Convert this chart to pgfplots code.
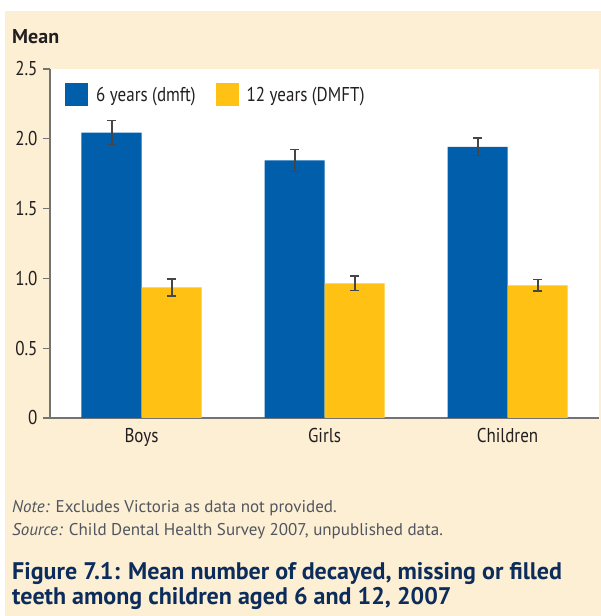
\documentclass[border=0pt]{standalone}
\usepackage{pgfplots}
\pgfplotsset{compat=1.18}
\usepackage{pgfplotstable}
\usepackage{fontspec}
\setmainfont{PT Sans}
\newfontfamily\condfont[FakeStretch=0.85]{PT Sans}
\definecolor{peach}{RGB}{253,239,212}
\definecolor{barblue}{RGB}{0,94,171}
\definecolor{baryellow}{RGB}{255,194,20}
\definecolor{capblue}{RGB}{12,45,92}
\definecolor{notegray}{RGB}{80,85,95}
\definecolor{axgray}{RGB}{115,115,115}
\definecolor{txt}{RGB}{35,31,32}
\definecolor{errgray}{RGB}{70,70,70}

\pgfplotstableread{
x six sixerr twelve twelveerr
0 2.045 0.087 0.936 0.060
1 1.845 0.078 0.965 0.051
2 1.943 0.062 0.950 0.042
}\datatable

\begin{document}
\begin{tikzpicture}
\fill[white] (0bp,0bp) rectangle (601bp,616bp);
\fill[peach] (5bp,0bp) rectangle (601bp,605bp);
\begin{axis}[
  at={(50bp,198bp)}, anchor=south west,
  scale only axis, width=549bp, height=349bp,
  axis background/.style={fill=white},
  ybar=0pt, bar width=60bp,
  xmin=-0.5, xmax=2.5, ymin=0, ymax=2.5,
  xtick={0,1,2}, xticklabels={Boys,Girls,Children},
  ytick={0,0.5,1,1.5,2,2.5}, yticklabels={0,0.5,1.0,1.5,2.0,2.5},
  axis x line*=bottom, axis y line*=left,
  axis line style={axgray, line width=1.3bp},
  x tick style={draw=none},
  y tick style={axgray, line width=1.3bp},
  tick align=outside, major tick length=7bp,
  yticklabel style={font=\condfont\fontsize{20bp}{20bp}\selectfont, text=txt, xshift=-2bp},
  xticklabel style={font=\condfont\fontsize{20bp}{20bp}\selectfont, text=txt},
  legend columns=2,
  legend style={at={(0.0273,0.96)}, anchor=north west, draw=none, fill=none,
    inner sep=0pt, font=\condfont\fontsize{20bp}{20bp}\selectfont, text=txt,
    /tikz/every odd column/.append style={column sep=6bp},
    /tikz/every even column/.append style={column sep=18bp}},
]
\addplot[fill=barblue, draw=none,
  legend image code/.code={\fill[barblue] (0bp,-11.5bp) rectangle (23bp,11.5bp);},
  error bars/.cd, y dir=both, y explicit,
    error bar style={line width=2bp, errgray},
    error mark options={rotate=90, mark size=4.5bp, line width=1.6bp, errgray}]
  table[x=x, y=six, y error=sixerr]{\datatable};
\addlegendentry{6 years (dmft)}
\addplot[fill=baryellow, draw=none,
  legend image code/.code={\fill[baryellow] (0bp,-11.5bp) rectangle (23bp,11.5bp);},
  error bars/.cd, y dir=both, y explicit,
    error bar style={line width=2bp, errgray},
    error mark options={rotate=90, mark size=4.5bp, line width=1.6bp, errgray}]
  table[x=x, y=twelve, y error=twelveerr]{\datatable};
\addlegendentry{12 years (DMFT)}
\end{axis}
\node[anchor=west, inner sep=0pt, font=\bfseries\fontsize{20bp}{20bp}\selectfont, text=txt] at (12bp,579bp) {Mean};
\node[anchor=west, inner sep=0pt, font=\fontsize{17bp}{17bp}\selectfont, text=notegray] at (12bp,108bp) {\textit{Note:} Excludes Victoria as data not provided.};
\node[anchor=west, inner sep=0pt, font=\fontsize{17bp}{17bp}\selectfont, text=notegray] at (12bp,85bp) {\textit{Source:} Child Dental Health Survey 2007, unpublished data.};
\node[anchor=west, inner sep=0pt, font=\bfseries\fontsize{24bp}{24bp}\selectfont, text=capblue] at (12bp,43bp) {Figure 7.1: Mean number of decayed, missing or filled};
\node[anchor=west, inner sep=0pt, font=\bfseries\fontsize{24bp}{24bp}\selectfont, text=capblue] at (12bp,18bp) {teeth among children aged 6 and 12, 2007};
\end{tikzpicture}
\end{document}
